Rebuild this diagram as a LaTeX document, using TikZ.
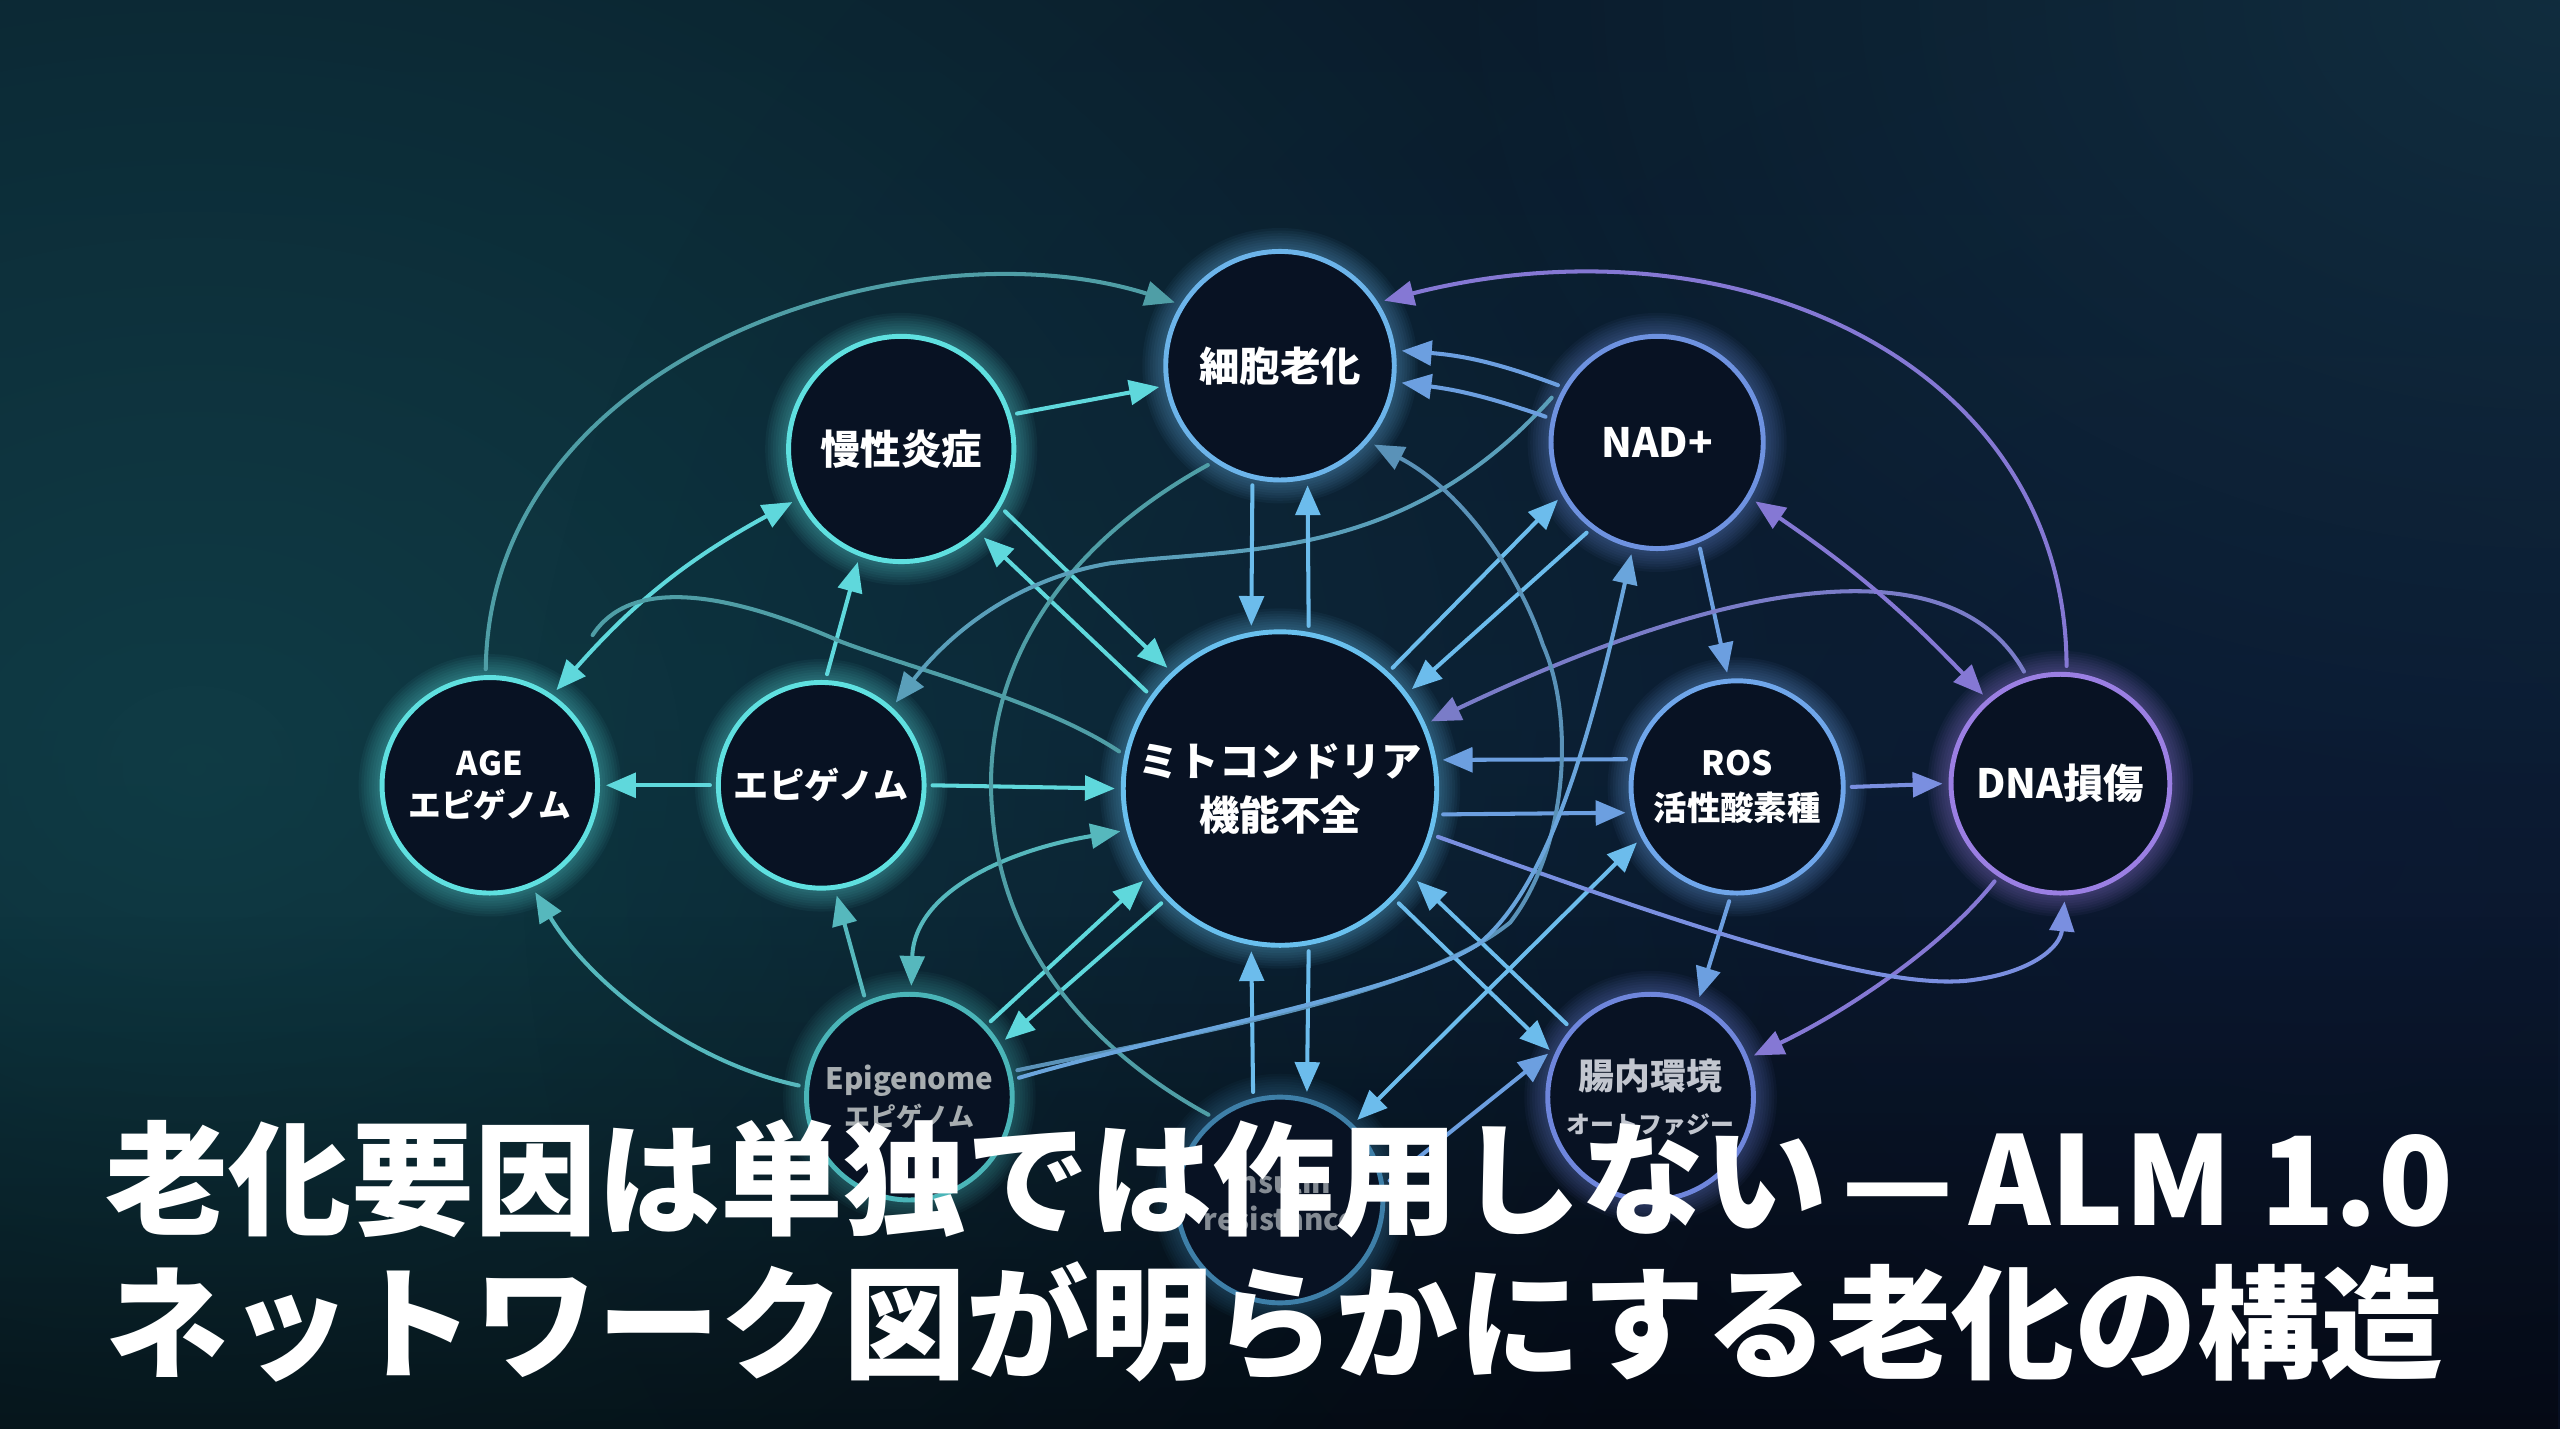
\documentclass[tikz,border=0pt]{standalone}
\usepackage{fontspec}
\newfontfamily\jp{Noto Sans CJK JP}
\usetikzlibrary{arrows.meta,fadings}

\definecolor{bgTop}{HTML}{0A1D2A}
\definecolor{bgMid}{HTML}{0B2230}
\definecolor{bgBot}{HTML}{060C16}
\definecolor{glowT}{HTML}{104049}
\definecolor{glowN}{HTML}{0C1636}
\definecolor{glowTR}{HTML}{15394A}
\definecolor{nodebg}{HTML}{081223}
\definecolor{nodeedge}{HTML}{5FE0E0}

\definecolor{cTeal}{HTML}{5FE0E0}
\definecolor{cSen}{HTML}{6CB4EA}
\definecolor{cMito}{HTML}{69C0EE}
\definecolor{cNad}{HTML}{6E92E0}
\definecolor{cRos}{HTML}{6FA6EA}
\definecolor{cDna}{HTML}{9B7FE3}
\definecolor{cGut}{HTML}{6F86DC}
\definecolor{cEpf}{HTML}{4AB5B8}
\definecolor{cIns}{HTML}{3E7FA8}
\definecolor{txtEpf}{HTML}{A7ADB0}
\definecolor{txtIns}{HTML}{858C94}
\definecolor{txtGut}{HTML}{C2C6CF}

\definecolor{cT}{HTML}{5FD8DC}
\definecolor{cTm}{HTML}{56B8BD}
\definecolor{cM}{HTML}{4F9EA6}
\definecolor{cTB}{HTML}{5A9FBA}
\definecolor{cB}{HTML}{6CBCEC}
\definecolor{cBm}{HTML}{6C9FE0}
\definecolor{cBP}{HTML}{7A8FE0}
\definecolor{cP}{HTML}{8578D4}
\definecolor{cP2}{HTML}{7A7CC8}
\definecolor{cBT}{HTML}{5A92B8}
\definecolor{cB2}{HTML}{6AA5DC}

\pgfdeclareradialshading[nodeedge]{nodesh}{\pgfpointorigin}{color(0bp)=(nodebg); color(34bp)=(nodebg); color(45bp)=(nodeedge!20!nodebg); color(50bp)=(nodeedge!50!nodebg)}
\tikzfading[name=fuzzy, inner color=transparent!0, outer color=transparent!100]

\tikzset{
  ln/.style={line width=1.15pt, line cap=round},
  ar/.style={ln, -{Triangle[length=8.5pt,width=7pt]}},
  br/.style={ln, {Triangle[length=8.5pt,width=7pt]}-{Triangle[length=8.5pt,width=7pt]}},
  titletext/.style={text=white, font=\jp\bfseries\fontsize{35}{40}\selectfont, inner sep=0pt, anchor=west},
}

\newcommand\gnode[7]{%
  \colorlet{nodeedge}{#5}%
  \foreach \k in {1,...,9}{\draw[draw=#5, draw opacity=0.05, line width=\k*3.2*0.4627pt] (#2,#3) circle[radius=#4];}%
  \node[circle, inner sep=0pt, outer sep=2.4pt, minimum size={2*#4*0.016327cm}, shading=nodesh, draw=#5, line width=1.4pt, align=center, text=white, #6] (#1) at (#2,#3) {#7};%
}

\begin{document}
\begin{tikzpicture}[x=0.016327cm, y=-0.016327cm]
\useasboundingbox (0,0) rectangle (1568,875);
% background
\shade[top color=bgTop, bottom color=bgBot, middle color=bgMid] (0,0) rectangle (1568,875);
\fill[glowT, path fading=fuzzy, fill opacity=0.85] (120,470) ellipse [x radius=1000, y radius=820];
\fill[glowN, path fading=fuzzy, fill opacity=0.6] (1420,520) ellipse [x radius=1100, y radius=900];
\fill[glowTR, path fading=fuzzy, fill opacity=0.6] (1568,0) ellipse [x radius=700, y radius=500];
\fill[black, path fading=north, fill opacity=0.35] (0,560) rectangle (1568,875);

% nodes
\gnode{sen}{784}{224}{70}{cSen}{font=\jp\bfseries\fontsize{11.5}{14}\selectfont}{細胞老化}
\gnode{inf}{552}{275}{69}{cTeal}{font=\jp\bfseries\fontsize{11.5}{14}\selectfont}{慢性炎症}
\gnode{nad}{1015}{271}{65}{cNad}{font=\jp\bfseries\fontsize{11.5}{14}\selectfont}{NAD+}
\gnode{age}{300}{481}{66}{cTeal}{font=\jp\bfseries\fontsize{9.3}{12}\selectfont}{AGE\\エピゲノム}
\gnode{epi}{503}{481}{63}{cTeal}{font=\jp\bfseries\fontsize{10}{12}\selectfont}{エピゲノム}
\gnode{mito}{784}{483}{96}{cMito}{font=\jp\bfseries\fontsize{11.5}{15.3}\selectfont}{ミトコンドリア\\機能不全}
\gnode{ros}{1064}{482}{65}{cRos}{font=\jp\bfseries\fontsize{9.5}{13}\selectfont}{ROS\\活性酸素種}
\gnode{dna}{1262}{480}{67}{cDna}{font=\jp\bfseries\fontsize{11.5}{14}\selectfont}{DNA損傷}
\gnode{epf}{557}{672}{63}{cEpf}{text=txtEpf, font=\jp\bfseries\fontsize{8.4}{10.6}\selectfont}{Epigenome\\{\fontsize{7.4}{9}\selectfont エピゲノム}}
\gnode{ins}{784}{735}{63}{cIns}{text=txtIns, font=\jp\bfseries\fontsize{8.4}{10.4}\selectfont}{Insulin\\resistance}
\gnode{gut}{1011}{672}{63}{cGut}{text=txtGut, font=\jp\bfseries\fontsize{10.2}{12.5}\selectfont}{腸内環境\\{\fontsize{6.8}{8.5}\selectfont オートファジー}}

% teal group
\draw[ar, cT] (inf.17) -- (sen.190);
\draw[br, cT] (age.55) to[bend left=10] (inf.206);
\draw[ar, cT] (epi.87) -- (inf.249);
\draw[ar, cT] (inf.329) -- (mito.133);
\draw[ar, cT] (mito.144) -- (inf.313);
\draw[ar, cT] (epi.180) -- (age.0);
\draw[ar, cT] (epi.0) -- (mito.180);
\draw[ar, cTm] (epf.114) -- (epi.278);
\draw[ar, cT] (epf.43) -- (mito.214);
\draw[ar, cT] (mito.224) -- (epf.31);
\draw[br, cTm] (epf.89) .. controls (560,545) and (620,520) .. (mito.195);
\draw[ar, cTm] (epf.174) .. controls (420,650) and (360,600) .. (age.293);

% muted arcs
\draw[ar, cM] (age.92) .. controls (300,215) and (560,135) .. (sen.149);
\coordinate (hk) at (363,389);
\draw[ln, cM] (hk) .. controls (385,355) and (440,360) .. (515,393) .. controls (560,410) and (640,430) .. (mito.167);
\draw[ln, cM] (sen.234) .. controls (640,340) and (600,420) .. (608,500) .. controls (615,590) and (680,650) .. (ins.130);
\draw[ar, cTB] (nad.157) .. controls (860,345) and (760,335) .. (680,345) .. controls (620,355) and (580,390) .. (epi.48);

% blue group
\draw[ar, cB] (sen.257) -- (mito.100);
\draw[ar, cB] (mito.80) -- (sen.283);
\draw[ar, cBm] (nad.150) to[bend right=8] (sen.7);
\draw[ar, cBm] (nad.167) to[bend right=6] (sen.352);
\draw[ar, cB] (mito.47) -- (nad.210);
\draw[ar, cB] (nad.232) -- (mito.37);
\draw[ar, cBm] (nad.292) -- (ros.95);
\draw[ar, cBm] (ros.166) -- (mito.10);
\draw[ar, cBm] (mito.351) -- (ros.193);
\draw[ar, cBP] (ros.0) -- (dna.180);
\draw[ar, cB] (ins.104) -- (mito.260);
\draw[ar, cB] (mito.280) -- (ins.76);
\draw[br, cB] (ros.209) -- (ins.46);
\draw[ar, cB] (mito.316) -- (gut.155);
\draw[ar, cB] (gut.139) -- (mito.326);
\draw[ar, cBm] (ros.266) -- (gut.64);
\draw[ar, cBm] (ins.10) -- (gut.157);

% purple group
\draw[ar, cP] (dna.87) .. controls (1265,220) and (1060,130) .. (sen.32);
\draw[ar, cP2] (dna.108) .. controls (1200,340) and (1080,345) .. (mito.24);
\draw[br, cP] (nad.329) to[bend left=6] (dna.131);
\draw[ar, cP] (dna.236) .. controls (1190,580) and (1130,620) .. (gut.22);
\draw[ar, cBP] (mito.343) .. controls (1000,555) and (1150,610) .. (1210,600) .. controls (1245,595) and (1262,580) .. (dna.272);

% long curves from Epigenome
\draw[ar, cBT] (epf.14) .. controls (720,635) and (870,610) .. (925,565) .. controls (960,520) and (965,440) .. (945,395) .. controls (930,350) and (895,300) .. (sen.320);
\draw[ar, cB2] (epf.10) .. controls (720,632) and (860,608) .. (906,578) .. controls (945,545) and (970,470) .. (nad.257);

% title
\node[titletext] (t1) at (64,722) {老化要因は単独では作用しない\hspace{0.12em}—\hspace{0.12em}ALM 1.0};
\node[titletext] (t2) at (64,810) {ネットワーク図が明らかにする老化の構造};
\end{tikzpicture}
\end{document}
